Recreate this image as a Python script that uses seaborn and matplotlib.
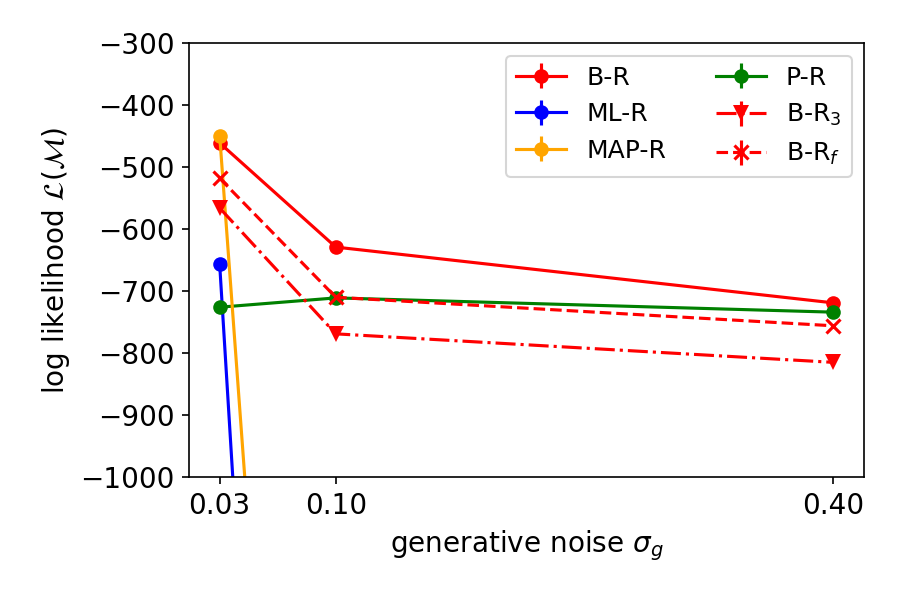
import numpy as np
import pandas as pd
import matplotlib
matplotlib.use("Agg")
import matplotlib.pyplot as plt
import seaborn as sns
from matplotlib.legend_handler import HandlerTuple

# datos
sigma_g = [0.03, 0.10, 0.40]
tick_labels = ["0.03", "0.10", "0.40"]

br_vals = [-461, -629, -719]
ml_vals = [-657, -3700, -3900]     # fuera de rango para 0.10 y 0.40
map_vals = [-449, -3000, -3200]    # fuera de rango para 0.10 y 0.40
pr_vals = [-726, -711, -734]
br3_vals = [-566, -769, -815]
brf_vals = [-518, -710, -756]
err_vals = [3, 3, 3]

series = [
    # nombre, valores, color, marcador, estilo
    ("B-R", br_vals, "red", "o", "-"),
    ("ML-R", ml_vals, "blue", "o", "-"),
    ("P-R", pr_vals, "green", "o", "-"),
    ("MAP-R", map_vals, "orange", "o", "-"),
    ("B-R$_3$", br3_vals, "red", "v", "-."),
    ("B-R$_f$", brf_vals, "red", "x", "--"),
]
legend_order = ["B-R", "ML-R", "MAP-R", "P-R", "B-R$_3$", "B-R$_f$"]

plt.rcParams["font.size"] = 13.4
fig, ax = plt.subplots(figsize=(6, 4), dpi=150)

handles = {}
for name, vals, color, marker, ls in series:
    df = pd.DataFrame({"sigma": sigma_g, "ll": vals})
    sns.lineplot(data=df, x="sigma", y="ll", color=color, marker=marker,
                 linestyle=ls, linewidth=1.5,
                 markersize=8 if marker == "v" else 7,
                 markeredgewidth=1.5 if marker == "x" else 0,
                 markeredgecolor=color, ax=ax, legend=False, sort=False)
    line = ax.get_lines()[-1]
    eb = ax.errorbar(sigma_g, vals, yerr=err_vals, fmt="none", ecolor=color,
                     elinewidth=1.5)
    handles[name] = (line, eb)

ax.set_xlim(0.0115, 0.4185)
ax.set_ylim(-1000, -300)
ax.set_yticks(np.arange(-1000, -299, 100))
ax.set_xticks(sigma_g)
ax.set_xticklabels(tick_labels)
ax.set_xlabel(r"generative noise $\sigma_g$")
ax.set_ylabel(r"log likelihood $\mathcal{L}(\mathcal{M})$")

ax.legend([handles[n] for n in legend_order], legend_order, ncol=2,
          loc="upper right", fontsize=12,
          handler_map={tuple: HandlerTuple(ndivide=1, pad=0)})

fig.subplots_adjust(left=0.21, right=0.96, top=0.928, bottom=0.205)
fig.savefig("out.png", dpi=150)
